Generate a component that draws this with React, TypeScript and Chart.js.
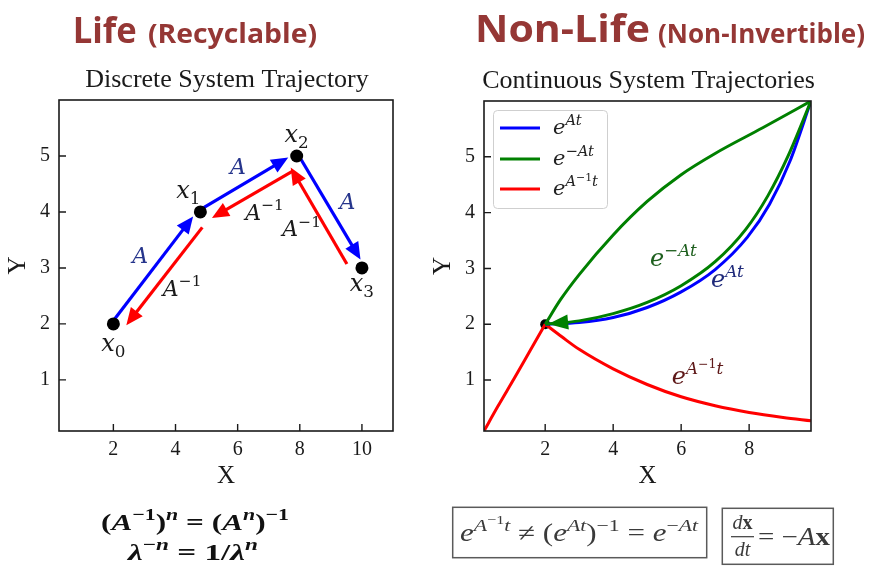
import React, { useEffect, useRef } from 'react';
import { Chart, registerables } from 'chart.js';

Chart.register(...registerables);

// ---------- discrete system: states x0..x3 ----------
const STATE_X = [2, 4.8, 7.9, 10];
const STATE_Y = [2, 4, 5, 3];
const STATE_INDEX = ['0', '1', '2', '3'];

// ---------- axes ----------
const LEFT_X_TICKS = [2, 4, 6, 8, 10];
const RIGHT_X_TICKS = [2, 4, 6, 8];
const Y_TICKS = [1, 2, 3, 4, 5];

// ---------- continuous system trajectories ----------
const START_X = [2];
const START_Y = [2];

// e^{At}
const EXP_AT_X = [2, 3, 4, 5, 6, 7, 7.95, 8.6, 9.2, 9.82];
const EXP_AT_Y = [2, 2.03, 2.12, 2.3, 2.58, 2.98, 3.56, 4.15, 4.92, 6.0];

// e^{-At}, returning path next to e^{At}
const EXP_NEG_AT_X = [2, 3, 4, 5, 6, 7, 7.9, 8.55, 9.15, 9.82];
const EXP_NEG_AT_Y = [2, 2.06, 2.19, 2.39, 2.69, 3.12, 3.7, 4.3, 5.02, 6.0];

// e^{-At}, upper arc
const EXP_NEG_AT_ARC_X = [2, 2.45, 3, 4, 5, 6, 7, 8.4, 9.82];
const EXP_NEG_AT_ARC_Y = [2, 2.44, 2.89, 3.6, 4.2, 4.68, 5.06, 5.52, 6.0];

// e^{A^{-1}t}, two branches meeting at the start point
const EXP_INV_RISE_X = [0.2, 0.6, 1.1, 1.55, 2];
const EXP_INV_RISE_Y = [0.087, 0.52, 1.04, 1.52, 2];
const EXP_INV_DECAY_X = [2, 2.5, 3, 4, 5, 6, 7, 8, 9, 9.82];
const EXP_INV_DECAY_Y = [2, 1.77, 1.55, 1.2, 0.92, 0.7, 0.54, 0.42, 0.33, 0.27];

// curve label anchors (data coordinates)
const CURVE_LABEL_X = [5.77, 7.36, 6.48];
const CURVE_LABEL_Y = [3.16, 2.79, 1.05];

// ---------- styling ----------
const SERIF = '"Liberation Serif", "Times New Roman", serif';
const MATH = '"DejaVu Serif", serif';
const SANS = '"Open Sans", "Noto Sans", sans-serif';
const INK = '#1a1a1a';
const BLUE = '#0000ff';
const GREEN = '#008000';
const RED = '#ff0000';
const HEAD_RED = '#953735';

type Run = { t: string; lvl?: number; it?: boolean; b?: boolean };

const LVL_SCALE: Record<number, number> = { 0: 1, 1: 0.7, 2: 0.52, [-1]: 0.7 };
const LVL_SHIFT: Record<number, number> = { 0: 0, 1: -0.42, 2: -0.68, [-1]: 0.24 };

function runFont(r: Run, size: number, family: string) {
  const s = size * LVL_SCALE[r.lvl ?? 0];
  return `${r.it ? 'italic ' : ''}${r.b ? 'bold ' : ''}${s}px ${family}`;
}

function runsWidth(ctx: CanvasRenderingContext2D, runs: Run[], size: number, family: string) {
  let w = 0;
  for (const r of runs) {
    ctx.font = runFont(r, size, family);
    w += ctx.measureText(r.t).width;
  }
  return w;
}

function drawRuns(
  ctx: CanvasRenderingContext2D,
  runs: Run[],
  x: number,
  y: number,
  size: number,
  family: string,
  color: string,
  align: 'left' | 'center' | 'right' = 'left',
  fitWidth?: number
) {
  const natural = runsWidth(ctx, runs, size, family);
  const sx = fitWidth ? fitWidth / natural : 1;
  const total = natural * sx;
  const start = align === 'center' ? x - total / 2 : align === 'right' ? x - total : x;
  ctx.save();
  ctx.translate(start, y);
  ctx.scale(sx, 1);
  ctx.fillStyle = color;
  ctx.textAlign = 'left';
  ctx.textBaseline = 'alphabetic';
  let cx = 0;
  for (const r of runs) {
    ctx.font = runFont(r, size, family);
    ctx.fillText(r.t, cx, size * LVL_SHIFT[r.lvl ?? 0]);
    cx += ctx.measureText(r.t).width;
  }
  ctx.restore();
}

function drawFitted(
  ctx: CanvasRenderingContext2D,
  text: string,
  font: string,
  x0: number,
  x1: number,
  baseline: number,
  color: string
) {
  ctx.save();
  ctx.font = font;
  const w = ctx.measureText(text).width;
  ctx.translate(x0, baseline);
  ctx.scale((x1 - x0) / w, 1);
  ctx.fillStyle = color;
  ctx.textAlign = 'left';
  ctx.textBaseline = 'alphabetic';
  ctx.fillText(text, 0, 0);
  ctx.restore();
}

function arrow(
  ctx: CanvasRenderingContext2D,
  sx: number,
  sy: number,
  tx: number,
  ty: number,
  color: string,
  lw: number,
  headLen: number,
  headHalf: number
) {
  const dx = tx - sx;
  const dy = ty - sy;
  const L = Math.hypot(dx, dy);
  const ux = dx / L;
  const uy = dy / L;
  const bx = tx - ux * headLen;
  const by = ty - uy * headLen;
  ctx.save();
  ctx.strokeStyle = color;
  ctx.fillStyle = color;
  ctx.lineWidth = lw;
  ctx.beginPath();
  ctx.moveTo(sx, sy);
  ctx.lineTo(bx + ux * 2, by + uy * 2);
  ctx.stroke();
  ctx.beginPath();
  ctx.moveTo(tx, ty);
  ctx.lineTo(bx - uy * headHalf, by + ux * headHalf);
  ctx.lineTo(bx + uy * headHalf, by - ux * headHalf);
  ctx.closePath();
  ctx.fill();
  ctx.restore();
}

const pts = (xs: number[], ys: number[]) => xs.map((x, i) => ({ x, y: ys[i] }));

// frame, inward tick marks and the panel title
function framePlugin(title: string) {
  return {
    id: 'frameTicks',
    afterDatasetsDraw(chart: any) {
      const { ctx, chartArea: a, scales } = chart;
      ctx.save();
      ctx.strokeStyle = INK;
      ctx.lineWidth = 1.6;
      ctx.strokeRect(a.left, a.top, a.right - a.left, a.bottom - a.top);
      ctx.lineWidth = 1.4;
      ctx.beginPath();
      for (const t of scales.x.ticks) {
        const px = scales.x.getPixelForValue(t.value);
        ctx.moveTo(px, a.bottom);
        ctx.lineTo(px, a.bottom - 7);
      }
      for (const t of scales.y.ticks) {
        const py = scales.y.getPixelForValue(t.value);
        ctx.moveTo(a.left, py);
        ctx.lineTo(a.left + 7, py);
      }
      ctx.stroke();
      ctx.fillStyle = INK;
      ctx.font = `26px ${SERIF}`;
      ctx.textAlign = 'center';
      ctx.textBaseline = 'alphabetic';
      ctx.fillText(title, (a.left + a.right) / 2 + 1, a.top - 13);
      ctx.restore();
    },
  };
}

function axes(xMin: number, xMax: number, xTicks: number[]) {
  const tickFont = { family: SERIF, size: 20 };
  const titleFont = { family: SERIF, size: 25, lineHeight: 1 };
  return {
    x: {
      type: 'linear',
      min: xMin,
      max: xMax,
      grid: { display: false, drawTicks: false },
      border: { display: false },
      afterBuildTicks: (s: any) => {
        s.ticks = xTicks.map((v) => ({ value: v }));
      },
      afterFit: (s: any) => {
        s.height = 58;
      },
      ticks: { padding: 7, color: INK, font: tickFont, autoSkip: false, maxRotation: 0, callback: (v: any) => String(v) },
      title: { display: true, text: 'X', color: INK, font: titleFont, padding: 0 },
    },
    y: {
      type: 'linear',
      min: 0.087,
      max: 6.0,
      grid: { display: false, drawTicks: false },
      border: { display: false },
      afterBuildTicks: (s: any) => {
        s.ticks = Y_TICKS.map((v) => ({ value: v }));
      },
      afterFit: (s: any) => {
        s.width = 53;
      },
      ticks: { padding: 9, color: INK, font: tickFont, autoSkip: false, callback: (v: any) => String(v) },
      title: { display: true, text: 'Y', color: INK, font: titleFont, padding: 0 },
    },
  };
}

// ---------- left panel: discrete steps ----------
const discretePlugin = {
  id: 'discreteSteps',
  beforeDatasetsDraw(chart: any) {
    const { ctx, scales } = chart;
    const P = STATE_X.map((v, i) => ({ x: scales.x.getPixelForValue(v), y: scales.y.getPixelForValue(STATE_Y[i]) }));
    for (let i = 0; i < P.length - 1; i++) {
      const a = P[i];
      const b = P[i + 1];
      const L = Math.hypot(b.x - a.x, b.y - a.y);
      const ux = (b.x - a.x) / L;
      const uy = (b.y - a.y) / L;
      const nx = -uy;
      const ny = ux;
      // forward step: A
      arrow(ctx, a.x + ux * 5 - nx * 2, a.y + uy * 5 - ny * 2, b.x - ux * 8 - nx * 3, b.y - uy * 8 - ny * 3, BLUE, 3.2, 17, 7.5);
      // backward step: A^-1
      arrow(ctx, b.x - ux * 11 + nx * 11, b.y - uy * 11 + ny * 11, a.x + ux * 7 + nx * 11, a.y + uy * 7 + ny * 11, RED, 3.2, 17, 7.5);
    }
  },
  afterDatasetsDraw(chart: any) {
    const { ctx, scales } = chart;
    const P = STATE_X.map((v, i) => ({ x: scales.x.getPixelForValue(v), y: scales.y.getPixelForValue(STATE_Y[i]) }));
    for (let i = 0; i < P.length - 1; i++) {
      const a = P[i];
      const b = P[i + 1];
      const L = Math.hypot(b.x - a.x, b.y - a.y);
      const ux = (b.x - a.x) / L;
      const uy = (b.y - a.y) / L;
      const nx = -uy;
      const ny = ux;
      const mx = (a.x + b.x) / 2;
      const my = (a.y + b.y) / 2;
      drawRuns(ctx, [{ t: 'A', it: true }], mx - nx * 21, my - ny * 21 + 8, 22, MATH, '#26358c', 'center');
      drawRuns(ctx, [{ t: 'A', it: true }, { t: '−1', lvl: 1 }], mx + nx * 32, my + ny * 32 + 8, 22, MATH, INK, 'center');
    }
    const offs = [
      [0, 22],
      [-12, -19],
      [0, -19],
      [0, 18],
    ];
    P.forEach((p, i) => {
      drawRuns(
        ctx,
        [{ t: 'x', it: true }, { t: STATE_INDEX[i], lvl: -1 }],
        p.x + offs[i][0],
        p.y + offs[i][1] + 5,
        24,
        MATH,
        INK,
        'center'
      );
    });
  },
  afterDraw(chart: any) {
    const { ctx } = chart;
    drawFitted(ctx, 'Life', `bold 36px ${SANS}`, 72.7, 136.7, 42.7, HEAD_RED);
    drawFitted(ctx, '(Recyclable)', `bold 26px ${SANS}`, 148, 317, 42.7, HEAD_RED);
    const line1: Run[] = [
      { t: '(', b: true },
      { t: 'A', b: true, it: true },
      { t: '−1', b: true, lvl: 1 },
      { t: ')', b: true },
      { t: 'n', b: true, it: true, lvl: 1 },
      { t: ' = (', b: true },
      { t: 'A', b: true, it: true },
      { t: 'n', b: true, it: true, lvl: 1 },
      { t: ')', b: true },
      { t: '−1', b: true, lvl: 1 },
    ];
    const line2: Run[] = [
      { t: 'λ', b: true, it: true },
      { t: '−', b: true, lvl: 1 },
      { t: 'n', b: true, it: true, lvl: 1 },
      { t: ' = 1/', b: true },
      { t: 'λ', b: true, it: true },
      { t: 'n', b: true, it: true, lvl: 1 },
    ];
    drawRuns(ctx, line1, 195, 530, 24, SERIF, '#111', 'center', 188);
    drawRuns(ctx, line2, 193, 560, 24, SERIF, '#111', 'center', 130);
  },
};

function leftConfig(): any {
  return {
    type: 'scatter',
    data: {
      datasets: [
        {
          label: 'states',
          data: pts(STATE_X, STATE_Y),
          pointRadius: 6.5,
          pointBackgroundColor: '#000',
          pointBorderWidth: 0,
          showLine: false,
        },
      ],
    },
    options: {
      responsive: false,
      animation: false,
      events: [],
      layout: { padding: { top: 100, left: 6, right: 41, bottom: 78 } },
      plugins: { legend: { display: false }, tooltip: { enabled: false }, title: { display: false } },
      scales: axes(0.25, 11.0, LEFT_X_TICKS),
    },
    plugins: [discretePlugin, framePlugin('Discrete System Trajectory')],
  };
}

// ---------- right panel: continuous flows ----------
const E_AT: Run[] = [{ t: 'e', it: true }, { t: 'At', it: true, lvl: 1 }];
const E_NEG_AT: Run[] = [{ t: 'e', it: true }, { t: '−', lvl: 1 }, { t: 'At', it: true, lvl: 1 }];
const E_INV_T: Run[] = [
  { t: 'e', it: true },
  { t: 'A', it: true, lvl: 1 },
  { t: '−1', lvl: 2 },
  { t: 't', it: true, lvl: 1 },
];

const continuousPlugin = {
  id: 'continuousExtras',
  afterDatasetsDraw(chart: any) {
    const { ctx, scales, chartArea: a } = chart;
    // arrow head where e^{-At} returns to the start point
    const p0 = { x: scales.x.getPixelForValue(EXP_NEG_AT_X[0]), y: scales.y.getPixelForValue(EXP_NEG_AT_Y[0]) };
    const p1 = { x: scales.x.getPixelForValue(EXP_NEG_AT_X[1]), y: scales.y.getPixelForValue(EXP_NEG_AT_Y[1]) };
    const L = Math.hypot(p0.x - p1.x, p0.y - p1.y);
    const ux = (p0.x - p1.x) / L;
    const uy = (p0.y - p1.y) / L;
    const tx = p0.x - ux * 3;
    const ty = p0.y - uy * 3;
    const bx = tx - ux * 20;
    const by = ty - uy * 20;
    ctx.save();
    ctx.fillStyle = GREEN;
    ctx.beginPath();
    ctx.moveTo(tx, ty);
    ctx.lineTo(bx - uy * 7.5, by + ux * 7.5);
    ctx.lineTo(bx + uy * 7.5, by - ux * 7.5);
    ctx.closePath();
    ctx.fill();
    ctx.restore();

    // curve labels
    const labelRuns = [E_NEG_AT, E_AT, E_INV_T];
    const labelColors = ['#1e5f1e', '#1f2a7a', '#5e1818'];
    labelRuns.forEach((runs, i) => {
      const px = scales.x.getPixelForValue(CURVE_LABEL_X[i]);
      const py = scales.y.getPixelForValue(CURVE_LABEL_Y[i]);
      drawRuns(ctx, runs, px, py + 7, 24, MATH, labelColors[i], 'center');
    });

    // legend
    const lx = a.left + 9;
    const ly = a.top + 9;
    ctx.save();
    ctx.fillStyle = 'rgba(255,255,255,0.85)';
    ctx.strokeStyle = '#cfcfcf';
    ctx.lineWidth = 1;
    ctx.beginPath();
    (ctx as any).roundRect(lx + 0.5, ly + 0.5, 114, 98, 4);
    ctx.fill();
    ctx.stroke();
    const rows = [
      { c: BLUE, r: E_AT },
      { c: GREEN, r: E_NEG_AT },
      { c: RED, r: E_INV_T },
    ];
    const rowY = [27, 58, 88];
    rows.forEach((row, i) => {
      const yy = a.top + rowY[i];
      ctx.strokeStyle = row.c;
      ctx.lineWidth = 3;
      ctx.beginPath();
      ctx.moveTo(a.left + 16, yy);
      ctx.lineTo(a.left + 56, yy);
      ctx.stroke();
      drawRuns(ctx, row.r, a.left + 69, yy + 6, 21, MATH, '#222', 'left');
    });
    ctx.restore();
  },
  afterDraw(chart: any) {
    const { ctx } = chart;
    drawFitted(ctx, 'Non-Life', `bold 37px ${SANS}`, 45, 220, 42, HEAD_RED);
    drawFitted(ctx, '(Non-Invertible)', `bold 26px ${SANS}`, 228, 435, 42.7, HEAD_RED);

    ctx.save();
    ctx.strokeStyle = '#5a5a5a';
    ctx.lineWidth = 1.5;
    ctx.strokeRect(22.7, 507.3, 254, 50.4);
    ctx.strokeRect(292.3, 508.3, 111, 56);
    ctx.restore();

    const ink = '#3a3a3a';
    const eq1: Run[] = [
      { t: 'e', it: true },
      { t: 'A', it: true, lvl: 1 },
      { t: '−1', lvl: 2 },
      { t: 't', it: true, lvl: 1 },
      { t: ' ≠ (' },
      { t: 'e', it: true },
      { t: 'At', it: true, lvl: 1 },
      { t: ')' },
      { t: '−1', lvl: 1 },
      { t: ' = ' },
      { t: 'e', it: true },
      { t: '−', lvl: 1 },
      { t: 'At', it: true, lvl: 1 },
    ];
    drawRuns(ctx, eq1, 30, 541, 25, SERIF, ink, 'left', 238);

    // dx/dt = -Ax
    drawRuns(ctx, [{ t: 'd', it: true }, { t: 'x', b: true }], 312.5, 529, 20, SERIF, ink, 'center');
    ctx.save();
    ctx.strokeStyle = ink;
    ctx.lineWidth = 1.2;
    ctx.beginPath();
    ctx.moveTo(301, 536.7);
    ctx.lineTo(324, 536.7);
    ctx.stroke();
    ctx.restore();
    drawRuns(ctx, [{ t: 'dt', it: true }], 312.5, 556, 20, SERIF, ink, 'center');
    drawRuns(ctx, [{ t: '= −' }, { t: 'A', it: true }, { t: 'x', b: true }], 328, 545, 25, SERIF, ink, 'left', 72);
  },
};

function rightConfig(): any {
  const line = (data: any, color: string, order: number) => ({
    data,
    showLine: true,
    borderColor: color,
    borderWidth: 3,
    pointRadius: 0,
    cubicInterpolationMode: 'monotone',
    order,
  });
  return {
    type: 'scatter',
    data: {
      datasets: [
        { data: pts(START_X, START_Y), pointRadius: 5, pointBackgroundColor: '#000', pointBorderWidth: 0, showLine: false, order: 5 },
        line(pts(EXP_INV_RISE_X, EXP_INV_RISE_Y), RED, 3),
        line(pts(EXP_INV_DECAY_X, EXP_INV_DECAY_Y), RED, 3),
        line(pts(EXP_AT_X, EXP_AT_Y), BLUE, 2),
        line(pts(EXP_NEG_AT_ARC_X, EXP_NEG_AT_ARC_Y), GREEN, 1),
        line(pts(EXP_NEG_AT_X, EXP_NEG_AT_Y), GREEN, 0),
      ],
    },
    options: {
      responsive: false,
      animation: false,
      events: [],
      layout: { padding: { top: 101, left: 1, right: 58, bottom: 78 } },
      plugins: { legend: { display: false }, tooltip: { enabled: false }, title: { display: false } },
      scales: axes(0.2, 9.82, RIGHT_X_TICKS),
    },
    plugins: [continuousPlugin, framePlugin('Continuous System Trajectories')],
  };
}

export default function App() {
  const leftRef = useRef<HTMLCanvasElement>(null);
  const rightRef = useRef<HTMLCanvasElement>(null);

  useEffect(() => {
    const left = new Chart(leftRef.current as HTMLCanvasElement, leftConfig());
    const right = new Chart(rightRef.current as HTMLCanvasElement, rightConfig());
    return () => {
      left.destroy();
      right.destroy();
    };
  }, []);

  return (
    <div style={{ position: 'absolute', left: 0, top: 0, width: 869, height: 567, background: '#fff', overflow: 'hidden' }}>
      <canvas ref={leftRef} width={434} height={567} style={{ position: 'absolute', left: 0, top: 0 }} />
      <canvas ref={rightRef} width={439} height={567} style={{ position: 'absolute', left: 430, top: 0 }} />
    </div>
  );
}
